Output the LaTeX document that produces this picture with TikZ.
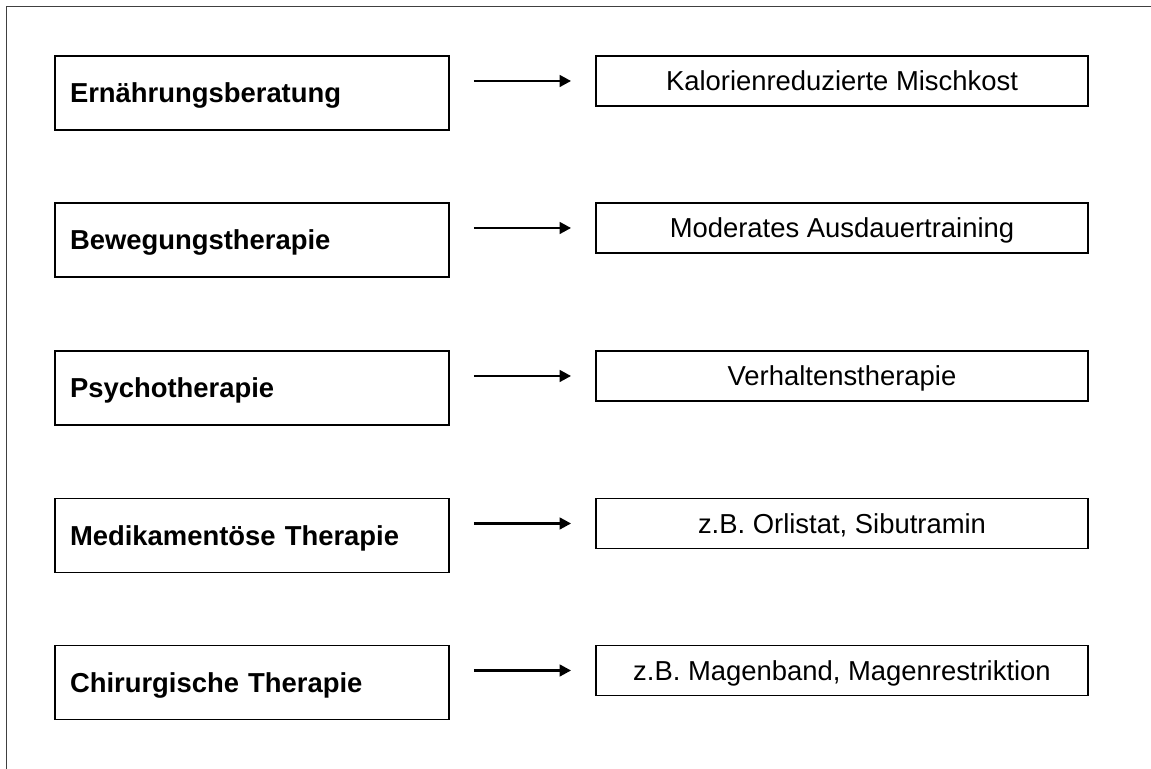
\documentclass[tikz,border=0pt]{standalone}
\usepackage{fontspec}
\setmainfont{Liberation Sans}
\usetikzlibrary{arrows.meta}

\tikzset{
    therapie/.style={draw=black, line width=0.5pt, rectangle, minimum width=3.94cm, minimum height=0.74cm,
        text width=3.64cm, inner xsep=0.15cm, align=left, text height=5.6pt, text depth=0pt,
        font=\fontsize{7.8}{9.4}\selectfont\bfseries},
    massnahme/.style={draw=black, line width=0.5pt, rectangle, minimum width=4.92cm, minimum height=0.50cm,
        inner sep=0pt, align=center, text height=5.6pt, text depth=0pt, font=\fontsize{7.8}{9.4}\selectfont},
    pfeil/.style={-{Triangle[length=1.15mm, width=1.15mm]}, line width=0.8pt, shorten <=0.24cm, shorten >=0.24cm}
}

\begin{document}
\begin{tikzpicture}[y=-1cm]
    \useasboundingbox (0,0) rectangle (11.51,7.69);
    \draw[black!75, line width=0.5pt] (0.065,7.8) -- (0.065,0.065) -- (11.6,0.065);
    % linke Spalte
    \node[therapie] (l1) at (2.52, 0.93) {Ernährungsberatung};
    \node[therapie] (l2) at (2.52, 2.40) {Bewegungstherapie};
    \node[therapie] (l3) at (2.52, 3.88) {Psychotherapie};
    \node[therapie] (l4) at (2.52, 5.355) {Medikamentöse Therapie};
    \node[therapie] (l5) at (2.52, 6.825) {Chirurgische Therapie};
    % rechte Spalte
    \node[massnahme] (r1) at (8.42, 0.81) {Kalorienreduzierte Mischkost};
    \node[massnahme] (r2) at (8.42, 2.28) {Moderates Ausdauertraining};
    \node[massnahme] (r3) at (8.42, 3.76) {Verhaltenstherapie};
    \node[massnahme] (r4) at (8.42, 5.235) {z.B. Orlistat, Sibutramin};
    \node[massnahme] (r5) at (8.42, 6.705) {z.B. Magenband, Magenrestriktion};
    % Pfeile
    \draw[pfeil] (l1.east |- r1.west) -- (r1.west);
    \draw[pfeil] (l2.east |- r2.west) -- (r2.west);
    \draw[pfeil] (l3.east |- r3.west) -- (r3.west);
    \draw[pfeil] (l4.east |- r4.west) -- (r4.west);
    \draw[pfeil] (l5.east |- r5.west) -- (r5.west);
\end{tikzpicture}
\end{document}
